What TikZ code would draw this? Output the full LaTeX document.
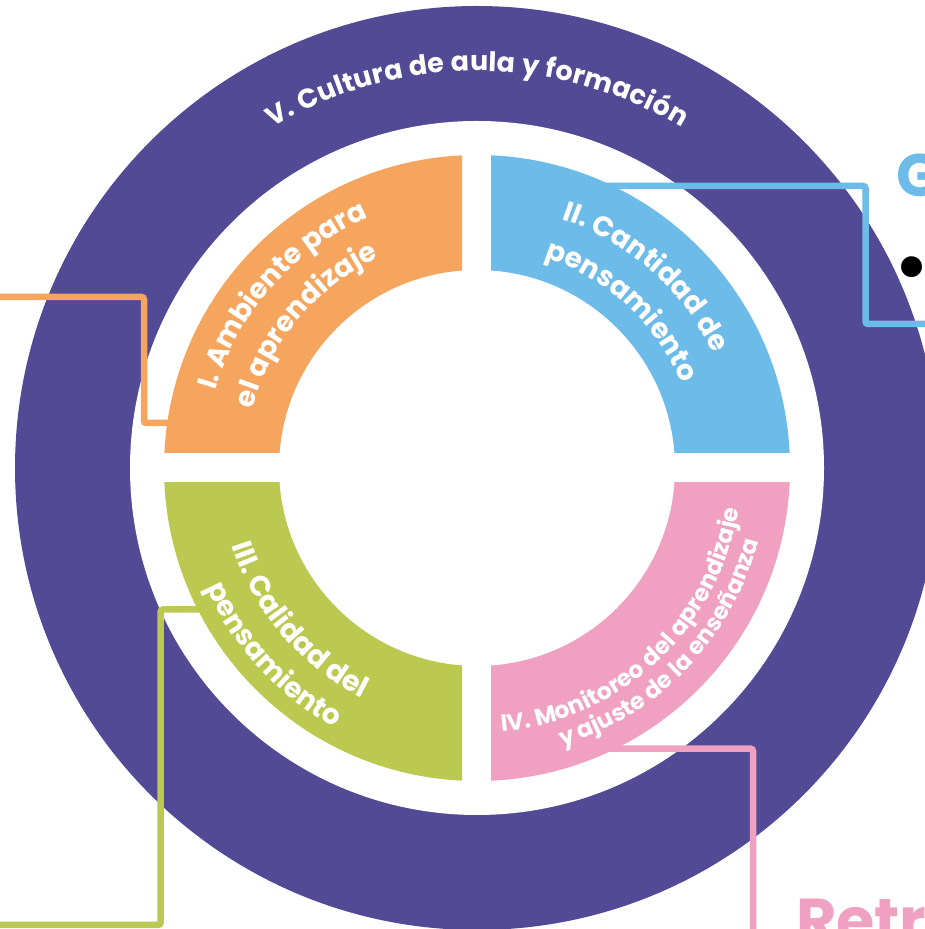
\documentclass[tikz,border=0pt]{standalone}
\usepackage{fontspec}
\setmainfont{Poppins}
\usetikzlibrary{decorations.text}
\definecolor{ring}{HTML}{524A94}
\definecolor{qor}{HTML}{F5A55E}
\definecolor{qbl}{HTML}{6CBBE9}
\definecolor{qgr}{HTML}{BBC950}
\definecolor{qpk}{HTML}{F0A0C1}
\tikzset{
  conn/.style={line width=6.5pt, rounded corners=2.5pt},
  arctext/.style n args={2}{decorate, decoration={text along path,
      text align=center, text color=white,
      text={|\fontsize{#1}{#1}\selectfont\bfseries|#2}}},
  fittext/.style n args={2}{decorate, decoration={text along path,
      text align=fit to path, text color=white,
      text={|\fontsize{#1}{#1}\selectfont\bfseries|#2}}},
}
\begin{document}
\begin{tikzpicture}[x=1pt,y=1pt]
\useasboundingbox (0,0) rectangle (925,929);
\clip (0,0) rectangle (925,929);
\fill[white] (0,0) rectangle (925,929);
\coordinate (c) at (477,461);
% outer ring
\fill[ring] (c) circle[radius=462];
\fill[white] (c) circle[radius=347];
% connectors
\coordinate (o1) at (-5,632);
\coordinate (o2) at (144,632);
\coordinate (o3) at (144,506);
\coordinate (o4) at (175,506);
\draw[conn, qor] (o1) -- (o2) -- (o3) -- (o4);
\coordinate (b1) at (600,743);
\coordinate (b2) at (865.5,743);
\coordinate (b3) at (865.5,605);
\coordinate (b4) at (935,605);
\draw[conn, qbl] (b1) -- (b2) -- (b3) -- (b4);
\coordinate (g1) at (205,319.5);
\coordinate (g2) at (160.5,319.5);
\coordinate (g3) at (160.5,4);
\coordinate (g4) at (-5,4);
\draw[conn, qgr] (g1) -- (g2) -- (g3) -- (g4);
\coordinate (p1) at (610,180.3);
\coordinate (p2) at (753,180.3);
\coordinate (p3) at (753,-10);
\draw[conn, qpk] (p1) -- (p2) -- (p3);
% quadrants
\begin{scope}
  \clip (0,476) rectangle (462,929);
  \fill[qor, even odd rule] (c) circle[radius=313] (c) circle[radius=198];
\end{scope}
\begin{scope}
  \clip (491,476) rectangle (925,929);
  \fill[qbl, even odd rule] (c) circle[radius=313] (c) circle[radius=198];
\end{scope}
\begin{scope}
  \clip (0,0) rectangle (462,446);
  \fill[qgr, even odd rule] (c) circle[radius=313] (c) circle[radius=198];
\end{scope}
\begin{scope}
  \clip (491,0) rectangle (925,446);
  \fill[qpk, even odd rule] (c) circle[radius=313] (c) circle[radius=198];
\end{scope}
% curved texts
\begin{scope}[shift={(477,461)}]
  \path[fittext={27}{V. Cultura de aula y formación}] (121:397) arc[start angle=121, end angle=59, radius=397];
  \path[arctext={28}{I. Ambiente para}] (188.5:273) arc[start angle=188.5, end angle=88.5, radius=273];
  \path[arctext={28}{el aprendizaje}] (190.2:232) arc[start angle=190.2, end angle=90.2, radius=232];
  \path[arctext={28}{II. Cantidad de}] (98.5:263) arc[start angle=98.5, end angle=-1.5, radius=263];
  \path[arctext={28}{pensamiento}] (97.3:221) arc[start angle=97.3, end angle=-2.7, radius=221];
  \path[arctext={28.5}{III. Calidad del}] (170.5:257) arc[start angle=170.5, end angle=270.5, radius=257];
  \path[arctext={28}{pensamiento}] (172.55:296) arc[start angle=172.55, end angle=272.55, radius=296];
  \path[arctext={23.5}{IV. Monitoreo del aprendizaje}] (263.25:265) arc[start angle=263.25, end angle=363.25, radius=265];
  \path[arctext={23.5}{y ajuste de la enseñanza}] (266.25:291) arc[start angle=266.25, end angle=366.25, radius=291];
\end{scope}
% cut-off texts at the right
\node[anchor=base west, inner sep=0, text=qbl, font=\fontsize{60}{60}\selectfont\bfseries] (gt) at (896,732) {G};
\node[anchor=north, inner sep=0, font=\fontsize{85}{85}\selectfont] (bul) at (912,672) {•};
\node[anchor=base west, inner sep=0, text=qpk, font=\fontsize{62}{62}\selectfont\bfseries] (rt) at (796,-13) {Retr};
\end{tikzpicture}
\end{document}
